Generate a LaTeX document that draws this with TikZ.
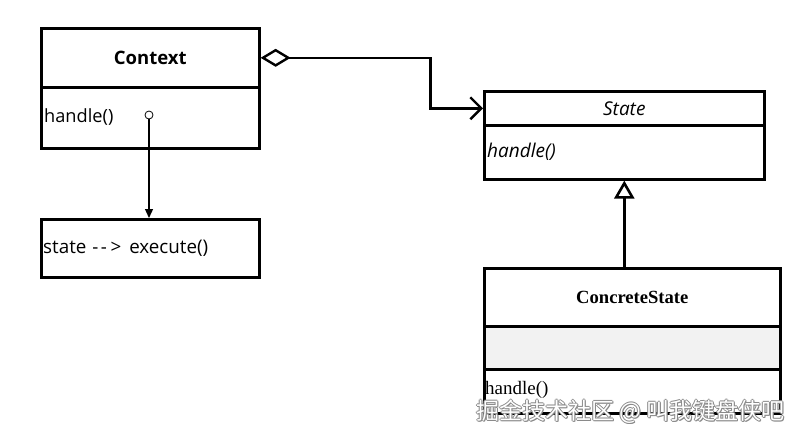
\documentclass[tikz,border=0pt]{standalone}
\usepackage{fontspec}
\usetikzlibrary{arrows.meta}
\newfontfamily\uifont{Open Sans}
\newfontfamily\tmsfont{Liberation Serif}
\newfontfamily\cjkfont{Noto Sans CJK SC}
\definecolor{compgray}{HTML}{F2F2F2}
\definecolor{wmgray}{HTML}{8A8A8A}
\begin{document}
\begin{tikzpicture}[x=1pt,y=-1pt,
  box/.style={draw, line width=2.6pt, anchor=north west, inner sep=0pt, minimum width=#1},
  lbl/.style={inner sep=0pt, font=\uifont\fontsize{18.2}{20}\selectfont},
  lbll/.style={lbl, anchor=west},
  itlbl/.style={inner sep=0pt, font=\uifont\itshape\fontsize{19}{21}\selectfont},
  serif/.style={inner sep=0pt, font=\tmsfont\fontsize{19}{21}\selectfont},
  wm/.style={inner sep=0pt, font=\cjkfont\fontsize{23}{26}\selectfont}
]
\useasboundingbox[fill=white] (0,0) rectangle (800,442);

% Context class
\node[box=218pt, minimum height=59pt] (ctxname) at (40,27) {};
\node[box=218pt, minimum height=61pt] (ctxops) at (40,86) {};
\node[lbl, font=\uifont\bfseries\fontsize{18.5}{20}\selectfont] (ctxlbl) at (ctxname.center) {Context};
\node[lbll] (ctxhandle) at (44,117) {handle()};
\node[circle, draw, line width=0.8pt, inner sep=0pt, minimum size=8pt, fill=white] (dot) at (149,115) {};

% note box
\node[box=218pt, minimum height=58pt] (exec) at (40,218) {};
\node[lbll, font=\uifont\fontsize{18.8}{20}\selectfont] (execlbl) at (43,248) {state\hspace{6pt}{-}\kern2.5pt{-}\kern3.5pt>\hspace{8pt}execute()};

\draw[line width=1.3pt, -{Triangle[length=9pt,width=8pt]}] (dot.south) -- (dot |- exec.north);

% State class
\node[box=280pt, minimum height=34pt] (statename) at (483,90) {};
\node[box=280pt, minimum height=54pt] (stateops) at (483,124) {};
\node[itlbl] (statelbl) at (statename.center) {State};
\node[itlbl, anchor=west] (statehandle) at (487,152) {handle()};

% ConcreteState class
\node[box=296pt, minimum height=58pt] (concname) at (483,267) {};
\node[box=296pt, minimum height=43pt, fill=compgray] (concattr) at (483,325) {};
\node[box=296pt, minimum height=44pt] (concops) at (483,368) {};
\node[serif, font=\tmsfont\bfseries\fontsize{18.6}{21}\selectfont] (conclbl) at (concname.center) {ConcreteState};
\node[serif, anchor=west] (conchandle) at (485,390) {handle()};

% aggregation
\draw[line width=2.4pt, {Diamond[open, length=30pt, width=18pt, line width=2.4pt]}-{Straight Barb[length=11pt, width=22pt, line width=2.4pt]}]
  (ctxname.east) -- ++(170,0) |- (statename.west);

% inheritance
\draw[line width=2.8pt, -{Triangle[open, length=18pt, width=20pt, line width=2.6pt]}]
  (concname.north -| stateops.south) -- (stateops.south);

% watermark
\foreach \dx/\dy in {-0.9/0,0.9/0,0/-0.9,0/0.9,0.7/0.7}
  \node[wm, text=wmgray] at (630.5+\dx,412+\dy) {掘金技术社区 @ 叫我键盘侠吧};
\node[wm, text=white] (wmark) at (630.5,412) {掘金技术社区 @ 叫我键盘侠吧};
\end{tikzpicture}
\end{document}
